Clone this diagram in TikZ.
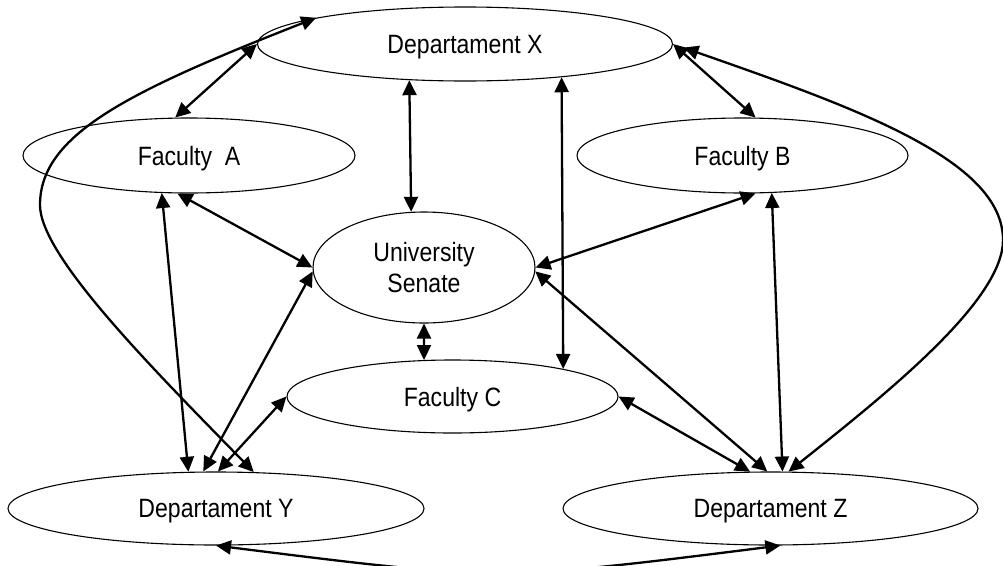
\documentclass[tikz,border=0pt]{standalone}
\usepackage{fontspec}
\newfontfamily\lab[FakeStretch=0.87]{Liberation Sans}
\usetikzlibrary{shapes.geometric,arrows.meta}
\tikzset{
  unit/.style={draw=black, line width=1.1pt, ellipse, inner sep=0pt, align=center,
    text depth=0pt, font=\lab\fontsize{26.5}{31}\selectfont},
  conn/.style={line width=2.3pt, {Triangle[length=15pt,width=14pt]}-{Triangle[length=15pt,width=14pt]}}
}
\begin{document}
\begin{tikzpicture}[x=1pt,y=-1pt]
\useasboundingbox (0,0) rectangle (1003,565);
\fill[white] (0,0) rectangle (1003,565);
\node[unit, minimum width=415pt, minimum height=74pt] (DX) at (465,44) {Departament X};
\node[unit, minimum width=332pt, minimum height=75pt] (FA) at (189,155.5) {Faculty\ \ A};
\node[unit, minimum width=331pt, minimum height=75pt] (FB) at (742.5,155.5) {Faculty B};
\node[unit, minimum width=222pt, minimum height=111pt] (US) at (424,267.5) {University\\Senate};
\node[unit, minimum width=331pt, minimum height=73pt] (FC) at (452.5,396.5) {Faculty C};
\node[unit, minimum width=416pt, minimum height=73pt] (DY) at (216,508.5) {Departament Y};
\node[unit, minimum width=415pt, minimum height=73pt] (DZ) at (770.5,508.5) {Departament Z};

\draw[conn] (DX.180) -- (FA.110.5);
\draw[conn] (DX.213.7) -- (US.103.2);
\draw[conn] (DX.341.4) -- (FC.14);
\draw[conn] (DX.0) -- (FB.71.6);
\draw[conn, shorten <=11pt] (DX.0) .. controls (856,108) and (1003,160) .. (1003,240)
   .. controls (1003,300) and (890,391) .. (DZ.64);
\draw[conn] (DY.44.1) .. controls (148,364) and (40,255) .. (40,205)
   .. controls (40,135) and (127,92) .. (DX.170.6);
\draw[conn] (FA.-126.1) -- (DY.127.7);
\draw[conn] (FA.-107.8) -- (US.180);
\draw[conn] (US.182) -- (DY.109.7);
\draw[conn] (FC.180) -- (DY.87);
\draw[conn] (US.0) -- (FB.-71.5);
\draw[conn] (US.-2) -- (DZ.95.5);
\draw[conn] (FC.0) -- (DZ.119.5);
\draw[conn] (FB.-52.3) -- (DZ.72.5);
\draw[conn] (US.270) -- (FC.128.4);
\draw[conn] (DY.270) .. controls (498,581) .. (DZ.-75.4);
\end{tikzpicture}
\end{document}
